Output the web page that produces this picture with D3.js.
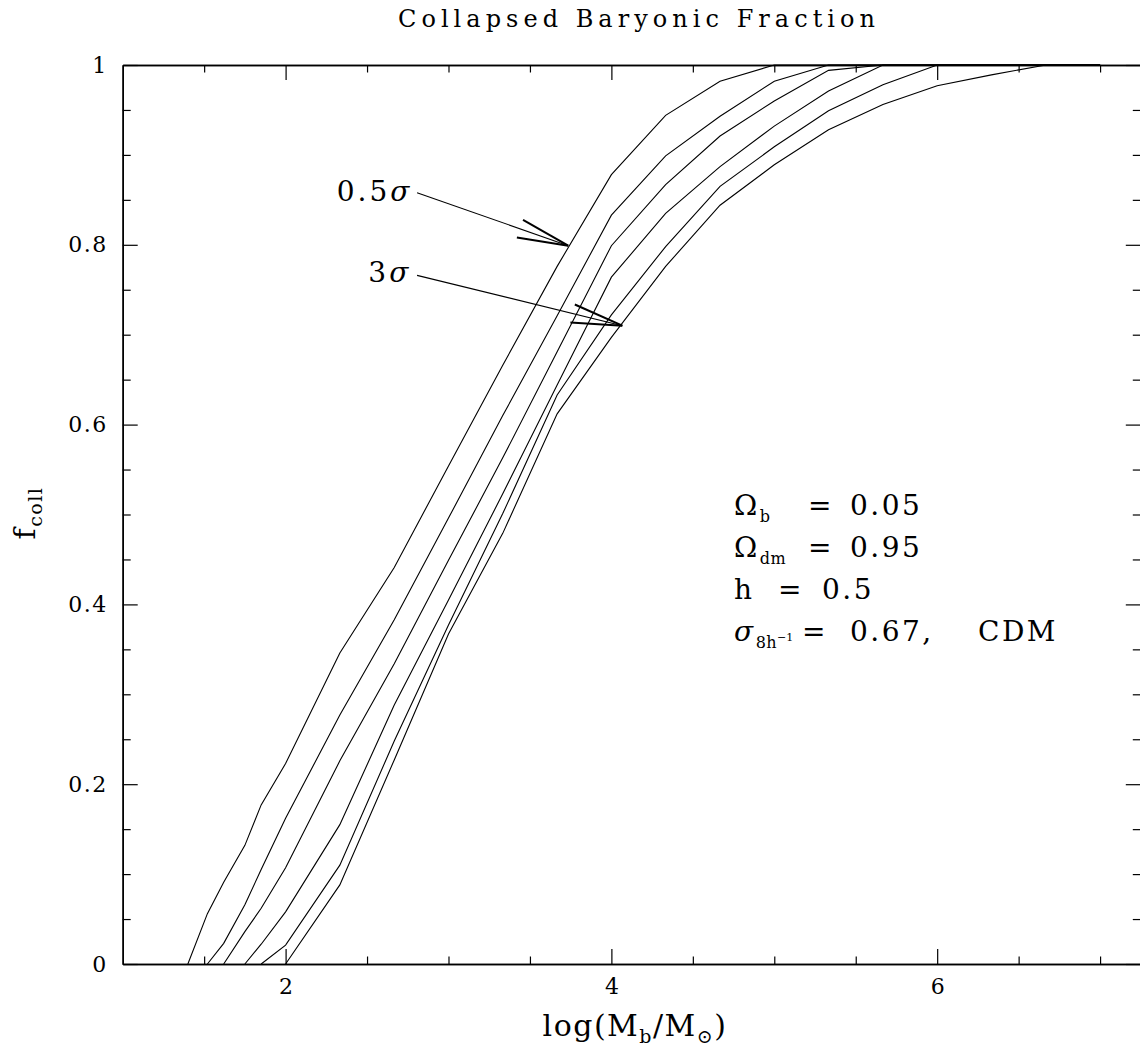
<!DOCTYPE html>
<html>
<head>
<meta charset="utf-8">
<script src="https://cdn.jsdelivr.net/npm/d3@7"></script>
<style>
  html, body { margin: 0; padding: 0; background: #fff; }
  svg { display: block; }
  text { font-family: "DejaVu Serif", serif; fill: #000; }
</style>
</head>
<body>
<svg id="chart" width="1140" height="1049"></svg>
<script>
// log10 of baryonic mass (solar units) at which f_coll was evaluated
const logMass = [1.4, 1.52, 1.62, 1.75, 1.85, 2.0, 2.333, 2.667, 3.0, 3.333, 3.667,
                 4.0, 4.333, 4.667, 5.0, 5.333, 5.667, 6.0, 6.333, 6.667, 7.0];

// collapsed baryonic fraction for peaks of increasing height (null = not yet collapsing)
const fcoll0p5 = [0, 0.056, 0.091, 0.132, 0.177, 0.223, 0.346, 0.441, 0.554, 0.666, 0.776,
                  0.878, 0.944, 0.982, 1, 1, 1, 1, 1, 1, 1];
const fcoll1p0 = [null, 0, 0.023, 0.066, 0.105, 0.162, 0.277, 0.383, 0.496, 0.610, 0.721,
                  0.833, 0.899, 0.943, 0.982, 1, 1, 1, 1, 1, 1];
const fcoll1p5 = [null, null, 0, 0.036, 0.062, 0.107, 0.226, 0.334, 0.449, 0.563, 0.681,
                  0.799, 0.867, 0.921, 0.960, 0.994, 1, 1, 1, 1, 1];
const fcoll2p0 = [null, null, null, 0, 0.022, 0.058, 0.155, 0.288, 0.405, 0.523, 0.644,
                  0.764, 0.835, 0.887, 0.932, 0.971, 1, 1, 1, 1, 1];
const fcoll2p5 = [null, null, null, null, 0, 0.021, 0.110, 0.248, 0.377, 0.501, 0.633,
                  0.722, 0.798, 0.865, 0.909, 0.949, 0.978, 1, 1, 1, 1];
const fcoll3p0 = [null, null, null, null, null, 0, 0.088, 0.227, 0.367, 0.479, 0.612,
                  0.697, 0.776, 0.844, 0.889, 0.928, 0.956, 0.977, 0.989, 1, 1];
const curves = [fcoll0p5, fcoll1p0, fcoll1p5, fcoll2p0, fcoll2p5, fcoll3p0];

// axis ticks
const xMajorTicks = [2, 4, 6];
const xMinorTicks = [1.5, 2.5, 3, 3.5, 4.5, 5, 5.5, 6.5, 7];
const yMajorTicks = [0, 0.2, 0.4, 0.6, 0.8, 1];
const yMajorLabels = ["0", "0.2", "0.4", "0.6", "0.8", "1"];
const yMinorTicks = [0.05, 0.1, 0.15, 0.25, 0.3, 0.35, 0.45, 0.5, 0.55, 0.65, 0.7, 0.75, 0.85, 0.9, 0.95];

// arrow annotations: label, label anchor, arrow start, arrow tip (data units)
const arrowNotes = [
  { label: "0.5", at: [2.314, 0.849], from: [2.807, 0.858], to: [3.735, 0.799] },
  { label: "3",   at: [2.508, 0.759], from: [2.807, 0.766], to: [4.067, 0.710] }
];

const svg = d3.select("#chart");
const x = d3.scaleLinear().domain([1, 7.25]).range([122.7, 1140.8]);
const y = d3.scaleLinear().domain([0, 1]).range([964, 65]);

// ---- frame with inward ticks on all four sides ----
function styleAxis(g) {
  g.selectAll("path.domain").attr("stroke", "#000").attr("stroke-width", 1.5);
  g.selectAll(".tick line").attr("stroke", "#000").attr("stroke-width", 1.2);
}
const axes = svg.append("g");

axes.append("g").attr("transform", `translate(0,${y(0)})`)
  .call(d3.axisBottom(x).tickValues(xMinorTicks).tickSize(-7.5).tickSizeOuter(0).tickFormat(""))
  .call(styleAxis);
axes.append("g").attr("transform", `translate(0,${y(0)})`)
  .call(d3.axisBottom(x).tickValues(xMajorTicks).tickSize(-15).tickSizeOuter(0).tickPadding(14)
        .tickFormat(d3.format("d")))
  .call(styleAxis)
  .call(g => g.selectAll("text").attr("font-size", 22).attr("font-family", "DejaVu Serif"));

axes.append("g").attr("transform", `translate(0,${y(1)})`)
  .call(d3.axisTop(x).tickValues(xMinorTicks).tickSize(-7.5).tickSizeOuter(0).tickFormat(""))
  .call(styleAxis);
axes.append("g").attr("transform", `translate(0,${y(1)})`)
  .call(d3.axisTop(x).tickValues(xMajorTicks).tickSize(-15).tickSizeOuter(0).tickFormat(""))
  .call(styleAxis);

axes.append("g").attr("transform", `translate(${x(1)},0)`)
  .call(d3.axisLeft(y).tickValues(yMinorTicks).tickSize(-8).tickSizeOuter(0).tickFormat(""))
  .call(styleAxis);
axes.append("g").attr("transform", `translate(${x(1)},0)`)
  .call(d3.axisLeft(y).tickValues(yMajorTicks).tickSize(-15).tickSizeOuter(0).tickPadding(15)
        .tickFormat((d, i) => yMajorLabels[i]))
  .call(styleAxis)
  .call(g => g.selectAll("text").attr("font-size", 22).attr("font-family", "DejaVu Serif")
        .attr("letter-spacing", 1.5));

axes.append("g").attr("transform", `translate(${x(7.25)},0)`)
  .call(d3.axisRight(y).tickValues(yMinorTicks).tickSize(-8).tickSizeOuter(0).tickFormat(""))
  .call(styleAxis);
axes.append("g").attr("transform", `translate(${x(7.25)},0)`)
  .call(d3.axisRight(y).tickValues(yMajorTicks).tickSize(-15).tickSizeOuter(0).tickFormat(""))
  .call(styleAxis);

// ---- curves ----
const line = d3.line()
  .defined(d => d[1] !== null)
  .x(d => x(d[0]))
  .y(d => y(d[1]));

svg.append("g").selectAll("path")
  .data(curves)
  .join("path")
  .attr("d", vals => line(logMass.map((m, i) => [m, vals[i]])))
  .attr("fill", "none")
  .attr("stroke", "#000")
  .attr("stroke-width", 1.1)
  .attr("stroke-linejoin", "miter");

// ---- arrows with open heads ----
const notes = svg.append("g");
arrowNotes.forEach(n => {
  const x0 = x(n.from[0]), y0 = y(n.from[1]);
  const x1 = x(n.to[0]), y1 = y(n.to[1]);
  notes.append("line").attr("x1", x0).attr("y1", y0).attr("x2", x1).attr("y2", y1)
    .attr("stroke", "#000").attr("stroke-width", 1.1);
  const ang = Math.atan2(y0 - y1, x0 - x1);
  [-0.18, 0.18].forEach(da => {
    notes.append("line")
      .attr("x1", x1).attr("y1", y1)
      .attr("x2", x1 + 52 * Math.cos(ang + da)).attr("y2", y1 + 52 * Math.sin(ang + da))
      .attr("stroke", "#000").attr("stroke-width", 2);
  });
  const t = notes.append("text").attr("x", x(n.at[0])).attr("y", y(n.at[1]))
    .attr("font-size", 28).attr("letter-spacing", 3);
  t.append("tspan").text(n.label);
  t.append("tspan").attr("font-style", "italic").text("σ");
});

// ---- parameter block ----
const params = svg.append("g").attr("font-size", 28).attr("letter-spacing", 2.5);
function paramLine(baseline, parts) {
  parts.forEach(p => {
    const t = params.append("text").attr("x", p.x).attr("y", baseline);
    p.segs.forEach(s => {
      const ts = t.append("tspan").text(s.t);
      if (s.sub) ts.attr("font-size", 16).attr("letter-spacing", 0.5).attr("dy", 7);
      if (s.sup) ts.attr("font-size", 11).attr("letter-spacing", 0).attr("dy", -7);
      if (s.it) ts.attr("font-style", "italic");
    });
  });
}
paramLine(515, [{ x: 734, segs: [{ t: "Ω" }, { t: "b", sub: true }] },
                { x: 808, segs: [{ t: "=" }] },
                { x: 850, segs: [{ t: "0.05" }] }]);
paramLine(557, [{ x: 734, segs: [{ t: "Ω" }, { t: "dm", sub: true }] },
                { x: 808, segs: [{ t: "=" }] },
                { x: 850, segs: [{ t: "0.95" }] }]);
paramLine(599, [{ x: 734, segs: [{ t: "h" }] },
                { x: 778, segs: [{ t: "=" }] },
                { x: 822, segs: [{ t: "0.5" }] }]);
paramLine(641, [{ x: 734, segs: [{ t: "σ", it: true }, { t: "8h", sub: true }, { t: "−1", sup: true }] },
                { x: 802, segs: [{ t: "=" }] },
                { x: 850, segs: [{ t: "0.67," }] },
                { x: 978, segs: [{ t: "CDM" }] }]);

// ---- title and axis titles ----
svg.append("text").attr("x", 636.5).attr("y", 27).attr("text-anchor", "middle")
  .attr("font-size", 24).attr("textLength", 477).attr("lengthAdjust", "spacing")
  .text("Collapsed Baryonic Fraction");

const xt = svg.append("text").attr("x", 635).attr("y", 1036).attr("text-anchor", "middle")
  .attr("font-size", 30).attr("letter-spacing", 1.5);
xt.append("tspan").text("log(M");
xt.append("tspan").attr("font-size", 19).attr("dy", 7).text("b");
xt.append("tspan").attr("dy", -7).text("/M");
xt.append("tspan").attr("font-size", 19).attr("dy", 7).text("⊙");
xt.append("tspan").attr("dy", -7).text(")");

const yt = svg.append("text").attr("transform", "translate(35,513) rotate(-90)")
  .attr("text-anchor", "middle").attr("font-size", 30).attr("letter-spacing", 1.5);
yt.append("tspan").text("f");
yt.append("tspan").attr("font-size", 19).attr("dy", 7).text("coll");
</script>
</body>
</html>
